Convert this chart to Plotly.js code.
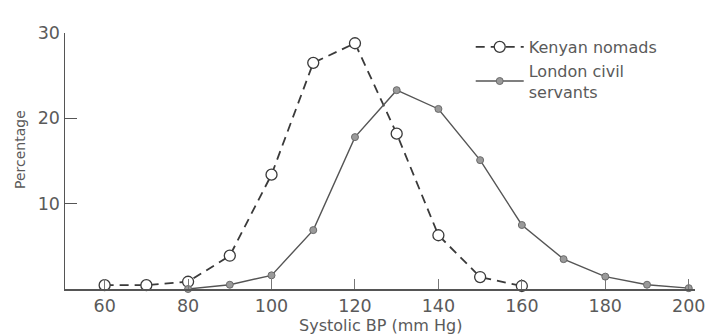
<!DOCTYPE html>
<html>
<head>
<meta charset="utf-8">
<script src="https://cdn.plot.ly/plotly-3.0.1.min.js"></script>
<style>html,body{margin:0;padding:0;background:#fff;}#chart{width:711px;height:335px;}</style>
</head>
<body>
<div id="chart"></div>
<script>
const bpKenyan = [60, 70, 80, 90, 100, 110, 120, 130, 140, 150, 160];
const pctKenyan = [0.45, 0.45, 0.85, 3.9, 13.4, 26.5, 28.8, 18.2, 6.3, 1.4, 0.35];
const bpLondon = [80, 90, 100, 110, 120, 130, 140, 150, 160, 170, 180, 190, 200];
const pctLondon = [0.0, 0.5, 1.6, 6.9, 17.8, 23.3, 21.1, 15.1, 7.5, 3.5, 1.45, 0.5, 0.1];
const xTicks = [60, 80, 100, 120, 140, 160, 180, 200];
const yTicks = [10, 20, 30];
const xTitle = 'Systolic BP (mm Hg)';
const yTitle = 'Percentage';

const txt = '#5a5a5a';
const fam = 'DejaVu Sans, Liberation Sans, sans-serif';
const data = [
  {
    x: bpKenyan, y: pctKenyan, type: 'scatter', mode: 'lines+markers',
    name: 'Kenyan nomads',
    line: {color: '#3a3a3a', width: 1.8, dash: '9px,6px'},
    marker: {symbol: 'circle', size: 11, color: '#ffffff', line: {color: '#3a3a3a', width: 1.3}},
    cliponaxis: false
  },
  {
    x: bpLondon, y: pctLondon, type: 'scatter', mode: 'lines+markers',
    name: 'London civil<br>servants',
    line: {color: '#555555', width: 1.4},
    marker: {symbol: 'circle', size: 7, color: '#9a9a9a', line: {color: '#6a6a6a', width: 1}},
    cliponaxis: false
  }
];

const W = 711, H = 335, L = 65, R = 16, T = 33, B = 46;
const layout = {
  width: W, height: H,
  margin: {l: L, r: R, t: T, b: B},
  paper_bgcolor: '#ffffff', plot_bgcolor: '#ffffff',
  font: {family: fam, color: txt, size: 15},
  showlegend: true,
  legend: {
    x: 0.644, y: 1.012, xanchor: 'left', yanchor: 'top',
    bgcolor: 'rgba(0,0,0,0)', font: {size: 16, color: txt, family: fam},
    itemwidth: 48, tracegroupgap: 0
  },
  xaxis: {
    range: [50.5, 201.5], tickvals: xTicks, ticktext: xTicks.map(String),
    ticks: 'inside', ticklen: 10, tickcolor: '#777', tickwidth: 1,
    showline: true, linecolor: '#555', linewidth: 1.5, showgrid: false, zeroline: false,
    tickfont: {size: 17.5, color: txt, family: fam}
  },
  yaxis: {
    range: [0, 30], tickvals: yTicks, ticktext: yTicks.map(String),
    ticks: 'inside', ticklen: 12, tickcolor: '#555', tickwidth: 1.3,
    showline: true, linecolor: '#555', linewidth: 1.5, showgrid: false, zeroline: false,
    tickfont: {size: 17.5, color: txt, family: fam}
  },
  annotations: [
    {text: xTitle, xref: 'paper', yref: 'paper', x: (380 - L) / (W - L - R), y: (H - B - 325) / (H - T - B),
     xanchor: 'center', yanchor: 'middle', showarrow: false, font: {size: 16, color: txt, family: fam}},
    {text: yTitle, xref: 'paper', yref: 'paper', x: (20 - L) / (W - L - R), y: (H - B - 150) / (H - T - B),
     xanchor: 'center', yanchor: 'middle', textangle: -90, showarrow: false, font: {size: 14, color: txt, family: fam}}
  ]
};

Plotly.newPlot('chart', data, layout, {displayModeBar: false, staticPlot: true});
</script>
</body>
</html>
